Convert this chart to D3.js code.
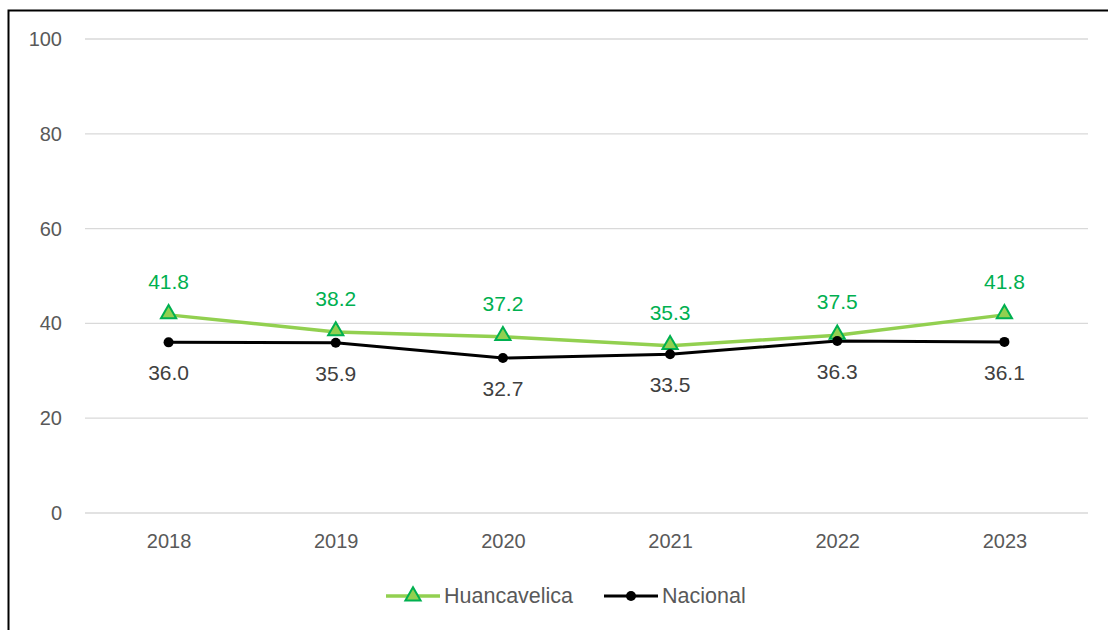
<!DOCTYPE html>
<html>
<head>
<meta charset="utf-8">
<script src="https://cdn.jsdelivr.net/npm/d3@7"></script>
<style>
  body { margin: 0; background: #fff; }
  text { font-family: "Liberation Sans", Arial, sans-serif; }
</style>
</head>
<body>
<div id="chart"></div>
<script>
var years = ['2018', '2019', '2020', '2021', '2022', '2023'];
var huancavelica = [41.8, 38.2, 37.2, 35.3, 37.5, 41.8];
var nacional = [36.0, 35.9, 32.7, 33.5, 36.3, 36.1];
var yTicks = [0, 20, 40, 60, 80, 100];

var W = 1108, H = 630;
var margin = {top: 39, right: 20, bottom: 117, left: 85};
var width = 1088 - margin.left;
var height = 513 - margin.top;

var svg = d3.select('#chart').append('svg')
  .attr('width', W)
  .attr('height', H);

// frame
svg.append('path')
  .attr('d', 'M8.5,630 V10.5 H1108')
  .attr('fill', 'none')
  .attr('stroke', '#000')
  .attr('stroke-width', 2);

var g = svg.append('g')
  .attr('transform', 'translate(' + margin.left + ',' + margin.top + ')');

var x = d3.scalePoint()
  .domain(years)
  .range([0, width])
  .padding(0.5);

var y = d3.scaleLinear()
  .domain([0, 100])
  .range([height, 0]);

// gridlines
g.selectAll('.grid')
  .data(yTicks)
  .enter().append('line')
    .attr('x1', 0)
    .attr('x2', width)
    .attr('y1', function(d) { return y(d); })
    .attr('y2', function(d) { return y(d); })
    .attr('stroke', '#d9d9d9')
    .attr('stroke-width', 1.3);

var yAxis = g.append('g')
  .call(d3.axisLeft(y).tickValues(yTicks).tickSize(0).tickPadding(23));
yAxis.select('.domain').remove();
yAxis.selectAll('text')
  .attr('font-size', '20px')
  .attr('fill', '#595959');

var xAxis = g.append('g')
  .attr('transform', 'translate(0,' + height + ')')
  .call(d3.axisBottom(x).tickSize(0).tickPadding(21));
xAxis.select('.domain').remove();
xAxis.selectAll('text')
  .attr('font-size', '20px')
  .attr('fill', '#595959');

var line = d3.line()
  .x(function(d, i) { return x(years[i]); })
  .y(function(d) { return y(d); });

g.append('path')
  .datum(huancavelica)
  .attr('d', line)
  .attr('fill', 'none')
  .attr('stroke', '#92d050')
  .attr('stroke-width', 3.5);

g.append('path')
  .datum(nacional)
  .attr('d', line)
  .attr('fill', 'none')
  .attr('stroke', '#000')
  .attr('stroke-width', 3);

var tri = d3.symbol().type(d3.symbolTriangle).size(100);

g.selectAll('.tri')
  .data(huancavelica)
  .enter().append('path')
    .attr('d', tri)
    .attr('transform', function(d, i) { return 'translate(' + x(years[i]) + ',' + (y(d) - 1) + ')'; })
    .attr('fill', '#92d050')
    .attr('stroke', '#00b050')
    .attr('stroke-width', 2);

g.selectAll('.dot')
  .data(nacional)
  .enter().append('circle')
    .attr('cx', function(d, i) { return x(years[i]); })
    .attr('cy', function(d) { return y(d); })
    .attr('r', 5)
    .attr('fill', '#000');

g.selectAll('.lblH')
  .data(huancavelica)
  .enter().append('text')
    .attr('x', function(d, i) { return x(years[i]); })
    .attr('y', function(d) { return y(d) - 26; })
    .attr('text-anchor', 'middle')
    .attr('font-size', '21px')
    .attr('fill', '#00b050')
    .text(function(d) { return d.toFixed(1); });

g.selectAll('.lblN')
  .data(nacional)
  .enter().append('text')
    .attr('x', function(d, i) { return x(years[i]); })
    .attr('y', function(d) { return y(d) + 38; })
    .attr('text-anchor', 'middle')
    .attr('font-size', '21px')
    .attr('fill', '#404040')
    .text(function(d) { return d.toFixed(1); });

// legend
var legend = svg.append('g').attr('transform', 'translate(0,596)');

legend.append('line')
  .attr('x1', 386).attr('x2', 440)
  .attr('stroke', '#92d050').attr('stroke-width', 3.5);
legend.append('path')
  .attr('d', tri)
  .attr('transform', 'translate(413,0)')
  .attr('fill', '#92d050')
  .attr('stroke', '#00b050')
  .attr('stroke-width', 2);
legend.append('text')
  .attr('x', 444).attr('y', 7)
  .attr('font-size', '21.5px')
  .attr('fill', '#595959')
  .text('Huancavelica');

legend.append('line')
  .attr('x1', 604).attr('x2', 658)
  .attr('stroke', '#000').attr('stroke-width', 3);
legend.append('circle')
  .attr('cx', 631).attr('cy', 0).attr('r', 5)
  .attr('fill', '#000');
legend.append('text')
  .attr('x', 662).attr('y', 7)
  .attr('font-size', '21.5px')
  .attr('fill', '#595959')
  .text('Nacional');
</script>
</body>
</html>
